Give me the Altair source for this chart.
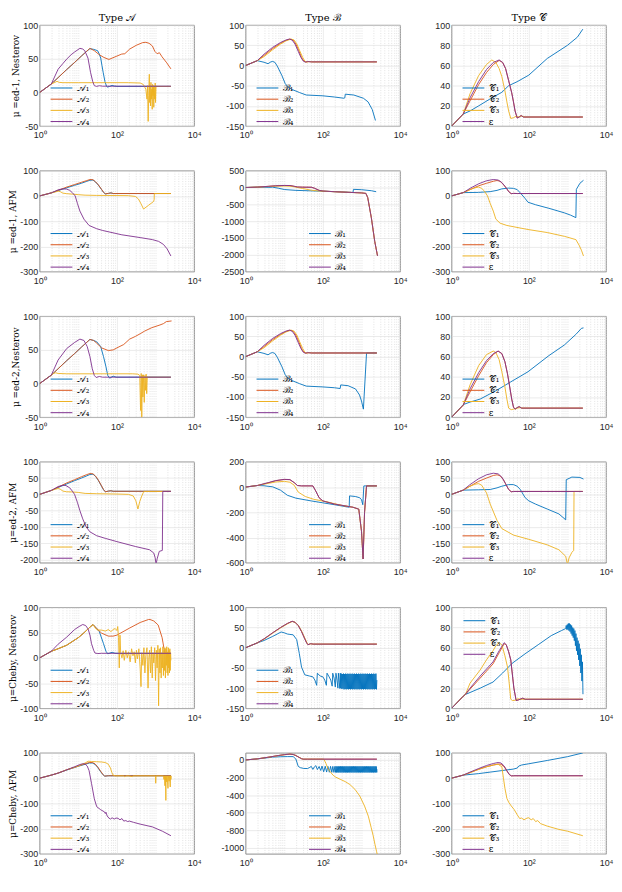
import altair as alt
import pandas as pd

COLORS = ["#0072BD", "#D95319", "#EDB120", "#7E2F8E"]
LAB_A = ["𝒜₁", "𝒜₂", "𝒜₃", "𝒜₄"]
LAB_B = ["ℬ₁", "ℬ₂", "ℬ₃", "ℬ₄"]
LAB_C = ["𝒞₁", "𝒞₂", "𝒞₃", "ε"]
COL_TITLES = ["Type 𝒜", "Type ℬ", "Type 𝒞"]
ROW_TITLES = ["μ =ed-1, Nesterov", "μ =ed-1, AFM", "μ =ed-2,Nesterov",
              "μ=ed-2, AFM", "μ=Cheby, Nesterov", "μ=Cheby, AFM"]

# ---------------- row 1 : ed-1, Nesterov ----------------
R1A1 = [(1,0),(2,12.5),(3,22),(5,34),(8,44.5),(12,54),(16,60.5),(20,65),(25,64),(31.6,62),(35,57),(38,51),(41,40),(44,30),(49,16),(54,9),(57,8),(65,9),(75,10.5),(85,9.5),(100,9),(2500,9)]
R1A2 = [(1,0),(2,12.5),(3,22),(5,34),(8,44.5),(12,54),(16,60.5),(20,65.5),(26,62),(35,56),(46,52),(62,49),(100,54),(133,57),(160,57.5),(215,64.5),(316,70),(464,74),(562,74.5),(680,73),(830,69),(960,61),(1100,57.5),(1260,59),(1470,53),(1950,44),(2500,35)]
R1A3 = [(1,0),(2,12.5),(2.5,15),(2.8,16.5),(3.2,15),(4,14.5),(10,14.5),(50,14.5),(200,14.5),(400,14),(480,12),(560,5),(600,-10),(620,10),(645,-43),(665,-5),(690,27),(705,-15),(720,10),(740,-20),(760,15),(780,-10),(800,5),(820,-25),(840,12),(860,-5),(880,10),(900,-22),(920,8),(950,-10),(980,14),(1000,-15),(1030,9),(1100,9),(2500,9)]
R1A4 = [(1,0),(2,12.5),(3,34.5),(4,43),(5,49.5),(6.5,56),(8,60),(11,65.5),(13,64.5),(14.7,62),(17.8,51),(20.7,30),(23.7,16),(26,10),(30,9),(35,10),(42,9.3),(2500,9.3)]

R1B1 = [(1,0),(2,12),(3,8),(3.8,4.5),(4.5,9),(5,10),(5.7,8),(6.6,-1.5),(8.7,-25),(10.6,-45),(12,-51),(15.6,-59),(25,-67),(37,-73),(100,-75),(200,-78),(350,-81),(370,-80),(380,-71),(630,-73),(1120,-81),(1480,-90),(1900,-109),(2300,-136)]
R1B2 = [(1,0),(2,12),(3,25),(5,42),(8,55),(11,62),(14,65.5),(17,63),(20,53),(24,36),(28,20),(32,11),(36,8.5),(42,9.8),(52,9),(2500,9)]
R1B3 = [(1,0),(2,12),(3,22),(5,39),(8,53),(11,61),(15,65.5),(18,63),(21,54),(25,37),(30,20),(34,11),(38,8.5),(44,9.8),(55,9),(2500,9)]
R1B4 = [(1,0),(2,12),(3,28),(5,45),(8,57),(11,63),(13.5,65.5),(16,63),(19,53),(23,35),(27,20),(31,11),(35,8.5),(40,9.8),(50,9),(2500,9)]

R1C1 = [(1,0),(2,12),(3,15),(5,20),(10,27),(20,33.5),(30,40),(50,44),(100,50.5),(300,67),(1000,80),(1800,88),(2500,96)]
R1C2 = [(1,0),(2,12),(3,25),(5,41),(8,53),(12,61),(17,65),(21,63),(25,57),(30,45),(36,33),(40,24),(44,15),(50,8),(56,9),(63,10.5),(72,9),(2500,9)]
R1C3 = [(1,0),(2,12),(3,32),(5,50),(8,61),(11,65.5),(14,63),(17,57),(20,49),(24,35),(27,24),(30,15),(34,7.6),(40,8.3),(48,10),(55,9),(65,10),(80,9),(2500,9)]
R1C4 = [(1,0),(2,12),(3,28),(5,44),(8,56),(12,63),(17,65.5),(21,63),(25,57),(30,45),(36,33),(40,24),(44,15),(50,8),(56,9),(63,10.5),(72,9),(2500,9)]

# ---------------- row 2 : ed-1, AFM ----------------
R2A1 = [(1,0),(2,12),(3,21),(5,32),(8,42),(12,50),(16,57),(20,62),(24,63),(28,55),(33,43),(40,25),(45,14),(50,8),(60,10),(70,12),(80,9.5),(2500,9.5)]
R2A2 = [(1,0),(2,12),(3,22),(5,35),(8,45),(12,54),(16,60),(20,65),(24,64),(28,56),(33,44),(40,26),(45,15),(50,8),(60,10),(70,12),(80,9.5),(2500,9.5)]
R2A3 = [(1,0),(2,12),(2.6,16),(3,19),(3.4,17),(4,11),(5,9),(7,7),(10,5),(15,3),(30,2),(100,1.5),(200,1),(300,-2),(360,-12),(420,-31),(490,-52),(660,-37),(890,-22),(920,-15),(930,9.5),(2500,9.5)]
R2A4 = [(1,0),(2,12),(3,24),(3.9,28),(5,27),(6,22),(7,13),(8.3,0),(9.5,-30),(11,-60),(14,-92),(19,-117),(30,-130),(43,-137),(134,-154),(400,-165),(830,-173),(1200,-180),(1600,-192),(2000,-210),(2500,-238)]

R2B1 = [(1,0),(2,12),(4,5),(5,10),(7,-20),(10,-60),(20,-85),(50,-100),(100,-110),(300,-130),(600,-150),(620,-55),(1000,-65),(1800,-95),(2400,-125)]
R2B2 = [(1,0),(2,12),(4,35),(6,50),(10,60),(14,58),(18,35),(22,15),(30,10),(50,8),(60,-20),(80,-85),(100,-105),(200,-125),(500,-145),(1000,-160),(1300,-175),(1450,-300),(1800,-900),(2200,-1600),(2600,-2030)]
R2B3 = [(1,0),(2,12),(4,30),(6,40),(10,45),(15,35),(20,10),(30,-30),(50,-80),(80,-105),(100,-110),(200,-125),(500,-145),(1000,-160),(1300,-175),(1450,-300),(1800,-900),(2200,-1600),(2600,-2030)]
R2B4 = [(1,0),(2,12),(4,36),(6,51),(10,61),(14,59),(18,36),(22,15),(30,10),(50,8),(60,-20),(80,-85),(100,-105),(200,-125),(500,-145),(1000,-160),(1300,-175),(1450,-300),(1800,-900),(2200,-1600),(2600,-2030)]

R2C1 = [(1,0),(2,13),(5,14),(10,17),(15,22),(20,28),(30,31),(40,30),(50,25),(60,12),(80,-10),(95,-25),(150,-35),(330,-49),(830,-67),(1200,-76),(1650,-86),(1700,26),(2100,50),(2600,62)]
R2C2 = [(1,0),(2,13),(3,25),(5,40),(8,50),(12,58),(15,61),(18,58),(22,45),(27,28),(31,15),(35,9),(40,10),(50,9.5),(2500,9.5)]
R2C3 = [(1,0),(2,13),(3,25),(4,32),(5,35),(6,30),(7,20),(8.5,0),(10,-30),(12,-60),(14,-92),(18,-108),(27,-117),(95,-133),(300,-145),(830,-160),(1650,-173),(2000,-195),(2300,-215),(2600,-238)]
R2C4 = [(1,0),(2,13),(3,30),(5,48),(8,60),(12,65),(16,63),(20,53),(25,35),(30,17),(35,9),(40,10),(50,9.5),(2500,9.5)]

# ---------------- row 3 : ed-2, Nesterov ----------------
R3A1 = [(1,0),(2,12.5),(3,22),(5,34),(8,44.5),(12,54),(16,60.5),(20,65.5),(25,64),(30,62),(38,55),(45,40),(52,25),(58,12),(65,8),(80,11),(95,9.5),(2500,9.5)]
R3A2 = [(1,0),(2,12.5),(3,22),(5,34),(8,44.5),(12,54),(16,60.5),(20,65.5),(25,64),(30,60),(40,53),(60,49),(80,50),(100,53),(150,58),(213,66),(300,70),(400,74),(525,78),(800,83),(1300,87),(1600,89),(1900,92),(2600,93)]
R3A3 = [(1,0),(2,12.5),(2.3,15),(2.6,16),(3,15),(5,14.5),(20,14.5),(100,14.5),(250,14.5),(350,14),(390,12),(410,-40),(425,15),(440,-50),(455,13),(470,-20),(490,13),(510,-28),(530,12),(550,-10),(570,14),(590,-15),(610,10),(630,9.5),(2500,9.5)]
R3A4 = [(1,0),(2,12.5),(3,35),(5,52),(8,61),(11,66),(14,64),(17,55),(20,40),(23,22),(26,12),(29,9),(35,10.5),(42,9.5),(2500,9.5)]

R3B1 = [(1,0),(2,12),(3,8),(3.8,4.5),(4.5,9),(5,10),(5.7,8),(6.6,-1.5),(8.7,-25),(10.6,-45),(12,-51),(15.6,-59),(25,-67),(37,-73),(100,-75),(200,-77),(280,-79),(290,-70),(450,-72),(700,-80),(890,-95),(1000,-110),(1120,-130),(1350,9),(2500,9)]
R3B2 = [(1,0),(2,12),(3,25),(5,42),(8,55),(11,62),(14,65.5),(17,63),(20,53),(24,36),(28,20),(32,11),(36,8.5),(42,9.8),(52,9),(2500,9)]
R3B3 = [(1,0),(2,12),(3,22),(5,39),(8,53),(11,61),(15,65.5),(18,63),(21,54),(25,37),(30,20),(34,11),(38,8.5),(44,9.8),(55,9),(2500,9)]
R3B4 = [(1,0),(2,12),(3,28),(5,45),(8,57),(11,63),(13.5,65.5),(16,63),(19,53),(23,35),(27,20),(31,11),(35,8.5),(40,9.8),(50,9),(2500,9)]

R3C1 = [(1,0),(2,12.5),(3,15),(5.5,18),(13.7,26),(34,35),(95,45),(330,61),(830,71.5),(1650,82),(2300,88),(2600,88.5)]
R3C2 = [(1,0),(2,12),(3,25),(5,41),(8,54),(12,62),(16,65.5),(20,63),(24,55),(28,43),(32,30),(36,18),(40,10),(44,8),(50,9.5),(56,10.5),(65,9),(2500,9)]
R3C3 = [(1,0),(2,12),(3,32),(5,51),(8,62),(12,65.5),(14,64),(17,57),(20,45),(24,30),(27,18),(30,9),(35,7.5),(40,8),(50,9),(60,9.5),(70,9),(2500,9)]
R3C4 = [(1,0),(2,12),(3,28),(5,44),(8,56),(12,63),(16,65.5),(20,63),(24,55),(28,43),(32,30),(36,18),(40,10),(44,8),(50,9.5),(56,10.5),(65,9),(2500,9)]

# ---------------- row 4 : ed-2, AFM ----------------
R4A1 = [(1,0),(2,12),(3,21),(5,32),(8,42),(12,50),(16,56),(20,61),(24,62),(28,55),(33,43),(40,25),(45,14),(50,8),(60,10),(70,11),(80,9.5),(2500,9.5)]
R4A2 = [(1,0),(2,12),(3,22),(5,35),(8,45),(12,54),(16,60),(20,64),(24,63),(28,56),(33,44),(40,26),(45,15),(50,8),(60,10),(70,11),(80,9.5),(2500,9.5)]
R4A3 = [(1,0),(2,12),(2.6,16),(3,18),(3.4,16),(4,10),(5,8),(7,7.5),(10,6),(15,3),(30,2),(100,1),(200,0),(265,-5),(310,-20),(350,-45),(390,-22),(440,-5),(480,5),(500,9),(2500,9)]
R4A4 = [(1,0),(2,12),(3,24),(4,28),(4.8,27),(6,20),(7,10),(8,0),(9.5,-25),(11,-50),(13,-75),(16,-100),(20,-115),(30,-127),(50,-135),(100,-145),(300,-160),(700,-170),(900,-180),(980,-195),(1030,-215),(1100,-198),(1250,-175),(1500,-172),(1540,9),(2500,9)]

R4B1 = [(1,0),(2,12),(3,10),(4,5),(5,2),(8,-25),(12,-65),(20,-88),(50,-110),(100,-125),(200,-140),(480,-160),(490,-70),(700,-75),(900,-85),(1000,-100),(1080,-140),(1150,9),(2500,9)]
R4B2 = [(1,0),(2,12),(4,35),(6,50),(10,60),(14,58),(18,35),(22,12),(28,9),(55,9),(65,-30),(80,-85),(100,-110),(200,-135),(600,-160),(850,-175),(1000,-350),(1100,-570),(1200,-200),(1350,9),(2500,9)]
R4B3 = [(1,0),(2,12),(4,30),(6,40),(10,45),(14,38),(18,15),(23,-40),(35,-75),(58,-97),(140,-120),(300,-145),(600,-160),(850,-175),(1000,-350),(1100,-570),(1200,-200),(1350,9),(2500,9)]
R4B4 = [(1,0),(2,12),(4,36),(6,51),(10,61),(14,59),(18,36),(22,12),(28,9),(55,9),(65,-30),(80,-85),(100,-110),(200,-135),(600,-160),(850,-175),(1000,-350),(1100,-570),(1200,-200),(1350,9),(2500,9)]

R4C1 = [(1,0),(2,13),(5,14),(10,15),(15,20),(20,25),(30,30),(40,30),(50,25),(60,15),(80,-10),(100,-20),(150,-30),(300,-45),(600,-60),(900,-78),(930,45),(1300,53),(2100,52),(2600,47)]
R4C2 = [(1,0),(2,13),(3,25),(5,40),(8,50),(12,58),(15,60),(18,57),(22,45),(26,28),(30,15),(35,8),(40,9),(2500,9)]
R4C3 = [(1,0),(2,13),(3,25),(4,31),(5,33),(6,28),(8,5),(10,-30),(15,-80),(20,-105),(40,-125),(100,-138),(300,-155),(600,-170),(900,-190),(1000,-215),(1100,-195),(1300,-178),(1450,-172),(1480,9),(2500,9)]
R4C4 = [(1,0),(2,13),(3,30),(5,48),(8,60),(12,65),(16,63),(20,53),(25,33),(30,15),(35,8),(40,9),(2500,9)]

# ---------------- row 5 : Cheby, Nesterov ----------------
R5A1 = [(1,0),(2,13),(3,18),(5,25),(10,40),(14,49.5),(19.5,60),(24,66),(30,58),(35,52),(45,28),(52,13),(58,8),(75,11),(90,9),(2500,9)]
R5A2 = [(1,0),(2,13),(3,18),(5,25),(10,40),(14,49.5),(19.5,60),(24,66),(30,58),(40,49),(60,43),(80,43),(100,45),(213,59),(400,70),(660,76),(720,76),(900,73),(1170,65),(1480,40),(1730,10),(1900,9),(2500,9)]
R5A3 = [(1,0),(2,13),(3,18),(5,25),(10,40),(14,49.5),(19.5,60),(24,66),(28,58),(32,55),(40,55),(50,53),(60,56),(70,52),(80,56),(90,58),(100,54),(105,62),(110,40),(115,-20),(120,45),(125,10),(135,0),(145,14),(155,-5),(170,15),(185,0),(200,12),(220,-8),(240,18),(260,4),(280,12),(300,-10),(320,15),(340,-2),(370,18),(400,-20),(420,-57),(440,10),(470,-15),(500,20),(530,-30),(560,5),(600,20),(640,-60),(670,0),(700,15),(740,-30),(780,22),(820,-40),(860,10),(900,-10),(950,20),(1000,-45),(1050,15),(1100,-20),(1150,25),(1200,-95),(1250,18),(1300,-30),(1350,20),(1400,-40),(1450,10),(1500,-20),(1550,22),(1600,-35),(1650,15),(1700,-25),(1750,20),(1800,-40),(1850,18),(1900,-15),(1950,22),(2000,-30),(2050,12),(2100,-35),(2150,20),(2200,-20),(2250,15),(2300,-30),(2350,18),(2400,-25),(2450,10),(2500,-5)]
R5A4 = [(1,0),(2,13),(3,27),(5,41),(8,56),(10.5,62),(13,66),(15.5,64),(18,57),(20,45),(22,28),(25,15),(27,9.5),(32,8.5),(40,9),(2500,9)]

R5B1_HEAD = [(1,0),(2,12),(3,18),(5,28),(8.3,39),(10,37),(12,34),(14,33),(17,32),(21,20),(24.5,-14),(28,-48),(34,-67),(45,-70),(55,-72),(62,-80),(69,-93),(72,-63),(85,-70),(100,-72),(112,-80),(123,-93),(128,-63),(145,-72),(160,-80),(174,-95),(180,-63),(195,-75),(210,-97),(218,-63),(232,-80),(245,-100),(252,-63),(265,-85),(275,-101),(282,-63)]
R5B1_BAND_X = [290,300,310,320,331,342,353,365,377,389,402,415,429,443,457,472,488,504,520,537,555,573,592,611,631,652,673,695,718,742,766,791,817,844,871,900,929,960,991,1024,1057,1092,1127,1164,1202,1242,1282,1324,1368,1412,1459,1506,1556,1607,1659,1714,1770,1828,1888,1950,2013,2079,2147,2218,2290,2365,2443,2500]
R5B1_BAND_Y = [-100,-64,-102,-65,-101,-64,-103,-65,-102,-64,-103,-65,-102,-64,-103,-65,-102,-64,-103,-65,-102,-64,-103,-65,-102,-64,-103,-65,-102,-64,-103,-65,-102,-64,-103,-65,-102,-64,-103,-65,-102,-64,-103,-65,-102,-64,-103,-65,-102,-64,-103,-65,-102,-64,-103,-65,-102,-64,-103,-65,-102,-64,-103,-65,-102,-64,-103,-80]
R5B1 = R5B1_HEAD + list(zip(R5B1_BAND_X, R5B1_BAND_Y))
R5B2 = [(1,0),(2,12),(3,22),(5,37),(8,50),(12,60),(16,65.5),(19,63),(23,55),(28,40),(34,22),(38,12),(41,7.6),(48,10),(56,9),(2500,9)]
R5B3 = [(1,0),(2,12),(3,21),(5,36),(8,49),(12,59),(16,65),(19,63),(23,56),(28,42),(34,24),(39,12),(42,7.6),(49,10),(57,9),(2500,9)]
R5B4 = [(1,0),(2,12),(3,22),(5,37),(8,50),(12,60),(16,65.5),(19,63),(23,55),(28,40),(34,22),(38,12),(41,7.6),(48,10),(56,9),(2500,9)]

R5C1_HEAD = [(1,0),(2,12),(2.3,13.8),(5.5,20),(11.8,26),(21,35),(37,44.6),(80,54),(175,63),(380,72),(700,77)]
R5C1_BAND_X = [900,930,960,991,1024,1057,1092,1127,1164,1202,1242,1282,1324,1368,1412,1459,1506,1556,1607,1659,1714,1770,1828,1888,1950,2013,2079,2147,2218,2290,2365,2443,2520]
R5C1_BAND_Y = [79,82,78,83,78,84,77,84,76,83,74,82,72,80,70,79,67,77,62,74,57,70,53,67,48,64,42,59,35,53,27,46,14]
R5C1 = R5C1_HEAD + list(zip(R5C1_BAND_X, R5C1_BAND_Y))
R5C2 = [(1,0),(2,12),(2.3,14),(3,19),(5.5,30),(11.8,44),(17,55),(23,64),(26,63),(30,56),(34,48),(41,20),(47,7.7),(55,8.5),(69,10),(80,9),(2500,9)]
R5C3 = [(1,0),(2,12),(2.3,14),(3,25),(5.5,38),(8,48),(11.8,57),(14,62),(17,65),(20,63),(24,52),(28,41),(31,25),(34,9),(38,7.7),(44,8),(52,9.5),(60,9),(2500,9)]
R5C4 = [(1,0),(2,12),(2.3,14),(3,20),(5.5,32),(11.8,46),(17,57),(23,65),(26,63),(30,56),(34,48),(41,20),(47,7.7),(55,8.5),(69,10),(80,9),(2500,9)]

# ---------------- row 6 : Cheby, AFM ----------------
R6A1 = [(1,0),(2,12),(3,20),(5,32),(10,47),(15,55),(19.5,60),(23,60),(27,55),(32,42),(38,25),(44,13),(48,8),(60,9.5),(2500,9.5)]
R6A2 = [(1,0),(2,12),(3,20),(5,33),(10,48),(15,57),(19.5,62),(23,62),(27,57),(32,44),(38,27),(44,14),(48,8),(60,9.5),(2500,9.5)]
R6A3 = [(1,0),(2,12),(3,20),(5,33),(10,48),(15,60),(18,67),(22,66),(30,65),(40,64),(50,62),(60,55),(68,40),(74,22),(80,12),(90,9),(150,9),(160,5),(170,9),(200,9),(250,6),(260,9),(1000,9),(1010,-20),(1030,9),(1600,9),(1650,-5),(1700,9),(1750,-30),(1800,9),(1850,-88),(1880,9),(1950,-15),(2000,9),(2100,-40),(2150,9),(2250,-12),(2300,9),(2400,-35),(2450,9),(2500,-5),(2550,9)]
R6A4 = [(1,0),(2,12),(3,20),(5,33),(8,45),(11,54),(13,57),(15,56),(17,48),(19,30),(22,-21),(26,-82),(30,-113),(38,-125),(48,-134),(50,-140),(52,-135),(56,-150),(62,-158),(68,-162),(75,-157),(85,-162),(95,-158),(107,-159),(120,-165),(135,-160),(150,-170),(170,-168),(190,-172),(210,-170),(270,-175),(400,-182),(830,-193),(1500,-210),(2500,-228)]

R6B1_HEAD = [(1,0),(2,12),(3,20),(5,32),(8,36),(12,38),(17,38),(20,10),(23,-73),(26,-88),(32,-97),(40,-98),(46,-85),(50,-73),(55,-108),(60,-80),(66,-65),(72,-110),(80,-75),(88,-120),(95,-70),(105,-135),(115,-72),(125,-138),(135,-73),(147,-140),(158,-73),(170,-141),(181,-73),(193,-142),(205,-73)]
R6B1_BAND_X = [213,220,227,235,243,251,259,268,277,286,295,305,315,325,336,347,358,370,382,395,408,421,435,449,464,479,495,511,528,545,563,582,601,621,641,662,684,706,729,753,778,804,830,857,885,914,944,975,1007,1040,1074,1109,1146,1183,1222,1262,1304,1346,1391,1436,1483,1532,1582,1634,1688,1743,1801,1860,1921,1984,2049,2116,2186,2258,2332,2408,2487,2500]
R6B1_BAND_Y = [-142,-73,-143,-74,-142,-73,-143,-74,-142,-73,-143,-74,-142,-73,-143,-74,-142,-73,-143,-74,-142,-73,-143,-74,-142,-73,-143,-74,-142,-73,-143,-74,-142,-73,-143,-74,-142,-73,-143,-74,-142,-73,-143,-74,-142,-73,-143,-74,-142,-73,-143,-74,-142,-73,-143,-74,-142,-73,-143,-74,-142,-73,-143,-74,-142,-73,-143,-74,-142,-73,-143,-74,-142,-73,-143,-74,-142,-105]
R6B1 = R6B1_HEAD + list(zip(R6B1_BAND_X, R6B1_BAND_Y))
R6B2 = [(1,0),(2,12),(4,32),(7,50),(10,60),(14,66),(17,62),(20,50),(24,30),(28,14),(31,9),(40,9),(2500,9)]
R6B3 = [(1,0),(2,12),(4,31),(7,49),(10,59),(14,65),(17,62),(20,51),(24,31),(28,15),(31,9),(40,9),(100,9),(107,5),(120,-40),(135,-100),(160,-143),(185,-175),(213,-195),(280,-220),(380,-247),(500,-280),(675,-334),(900,-410),(1200,-525),(1500,-640),(1780,-769),(2000,-860),(2230,-960),(2450,-1040),(2600,-1090)]
R6B4 = [(1,0),(2,12),(4,32),(7,50),(10,60),(14,66),(17,62),(20,50),(24,30),(28,14),(31,9),(40,9),(2500,9)]

R6C1 = [(1,0),(2,12),(5,18),(10,24),(20,30),(40,36),(50,40),(55,48),(65,52),(100,57),(300,70),(1000,85),(2500,100)]
R6C2 = [(1,0),(2,12),(3,22),(5,35),(8,45),(12,52),(16,56),(19,55),(23,45),(27,28),(31,15),(35,9),(40,9.5),(2500,9.5)]
R6C3 = [(1,0),(2,12),(3,22),(5,35),(8,45),(12,52),(16,55),(20,45),(22,0),(24,-40),(27,-80),(30,-95),(35,-110),(42,-125),(50,-145),(58,-160),(65,-158),(75,-165),(90,-158),(100,-157),(115,-165),(130,-160),(150,-172),(170,-168),(200,-180),(300,-190),(600,-203),(1000,-210),(2500,-228)]
R6C4 = [(1,0),(2,12),(3,24),(5,38),(8,50),(12,58),(16,62),(19,60),(23,48),(27,30),(31,15),(35,9),(40,9.5),(2500,9.5)]

# y-axis limits and tick labels per panel
Y_A1 = ([-50, 100], [-50, 0, 50, 100])
Y_B1 = ([-150, 100], [-150, -100, -50, 0, 50, 100])
Y_C1 = ([0, 100], [0, 20, 40, 60, 80, 100])
Y_300 = ([-300, 100], [-300, -200, -100, 0, 100])
Y_B2 = ([-2500, 500], [-2500, -2000, -1500, -1000, -500, 0, 500])
Y_A4 = ([-210, 100], [-200, -150, -100, -50, 0, 50, 100])
Y_B4 = ([-600, 200], [-600, -400, -200, 0, 200])
Y_A5 = ([-100, 100], [-100, -50, 0, 50, 100])
Y_B6 = ([-1070, 80], [-1000, -800, -600, -400, -200, 0])

LEG_L = (6.5, 59)
LEG_M = (59.5, 59)
LEG_T = (7.5, 9)

PANELS = [
    (0, 0, [R1A1, R1A2, R1A3, R1A4], Y_A1, LEG_L),
    (0, 1, [R1B1, R1B2, R1B3, R1B4], Y_B1, LEG_L),
    (0, 2, [R1C1, R1C2, R1C3, R1C4], Y_C1, LEG_L),
    (1, 0, [R2A1, R2A2, R2A3, R2A4], Y_300, LEG_L),
    (1, 1, [R2B1, R2B2, R2B3, R2B4], Y_B2, LEG_M),
    (1, 2, [R2C1, R2C2, R2C3, R2C4], Y_300, LEG_L),
    (2, 0, [R3A1, R3A2, R3A3, R3A4], Y_A1, LEG_L),
    (2, 1, [R3B1, R3B2, R3B3, R3B4], Y_B1, LEG_L),
    (2, 2, [R3C1, R3C2, R3C3, R3C4], Y_C1, LEG_L),
    (3, 0, [R4A1, R4A2, R4A3, R4A4], Y_A4, LEG_L),
    (3, 1, [R4B1, R4B2, R4B3, R4B4], Y_B4, LEG_M),
    (3, 2, [R4C1, R4C2, R4C3, R4C4], Y_A4, LEG_L),
    (4, 0, [R5A1, R5A2, R5A3, R5A4], Y_A5, LEG_L),
    (4, 1, [R5B1, R5B2, R5B3, R5B4], Y_B1, LEG_L),
    (4, 2, [R5C1, R5C2, R5C3, R5C4], Y_C1, LEG_T),
    (5, 0, [R6A1, R6A2, R6A3, R6A4], Y_300, LEG_L),
    (5, 1, [R6B1, R6B2, R6B3, R6B4], Y_B6, LEG_M),
    (5, 2, [R6C1, R6C2, R6C3, R6C4], Y_300, LEG_L),
]

W, H = 156, 102
XGRID = [m * 10 ** e for e in range(4) for m in range(1, 10)] + [10000]
SERIF = "DejaVu Serif"
SANS = "Liberation Sans"


def panel(row, col, series, ylim, leg):
    labels = [LAB_A, LAB_B, LAB_C][col]
    recs = []
    k = 0
    for lab, pts in zip(labels, series):
        for (x, y) in pts:
            recs.append({"x": x, "y": y, "s": lab, "i": k})
            k += 1
    df = pd.DataFrame(recs)
    xaxis = alt.Axis(
        values=XGRID, title=None, ticks=False, domain=False,
        labelExpr="datum.value == 1 ? '10⁰' : datum.value == 100 ? '10²' : datum.value == 10000 ? '10⁴' : ''",
        labelOverlap=False, labelFlush=False, labelPadding=5,
        gridDash={"condition": {"test": "datum.value == 100", "value": [1, 0]}, "value": [1, 1.5]},
        gridColor={"condition": {"test": "datum.value == 100", "value": "#dedede"}, "value": "#cfcfcf"},
    )
    yargs = dict(
        values=ylim[1], ticks=False, domain=False, labelPadding=2,
        labelExpr="replace(format(datum.value, 'd'), '\u2212', '-')",
        labelOverlap=False, labelFlush=False,
    )
    if col == 0:
        yaxis = alt.Axis(title=ROW_TITLES[row], titleFont=SERIF, titleFontSize=9,
                         titleFontWeight="normal", titleColor="#000000", titlePadding=2, **yargs)
    else:
        yaxis = alt.Axis(title=None, **yargs)
    legend = alt.Legend(
        orient="none", legendX=leg[0], legendY=leg[1], title=None, padding=0,
        symbolType="M0,0H11", symbolSize=16, symbolStrokeWidth=1,
        labelFont=SERIF, labelFontSize=9, labelColor="#000000", labelOffset=22,
        rowPadding=1.3,
    )
    ch = alt.Chart(df).mark_line(clip=True, strokeWidth=0.9).encode(
        x=alt.X("x:Q", scale=alt.Scale(type="log", domain=[1, 10000], nice=False), axis=xaxis),
        y=alt.Y("y:Q", scale=alt.Scale(domain=ylim[0], nice=False, zero=False), axis=yaxis),
        color=alt.Color("s:N", scale=alt.Scale(domain=labels, range=COLORS), legend=legend),
        order=alt.Order("i:Q"),
    ).properties(width=W, height=H)
    if row == 0:
        ch = ch.properties(title=alt.TitleParams(COL_TITLES[col], font=SERIF, fontSize=10,
                                                 fontWeight="normal", color="#000000",
                                                 offset=-1.5, frame="group"))
    return ch


charts = [panel(*p) for p in PANELS]

chart = alt.concat(
    *charts, columns=3, spacing={"row": 45, "column": 52}, bounds="flush"
).resolve_scale(
    x="independent", y="independent", color="independent"
).resolve_legend(
    color="independent"
).properties(
    padding={"left": 0, "top": 0, "right": 0, "bottom": 0}
).configure_view(
    stroke="#5a5a5a", strokeWidth=0.7
).configure_axis(
    labelFont=SANS, labelFontSize=9, labelColor="#262626",
    gridColor="#dedede", gridWidth=0.6,
)

chart.save("out.html", embed_options={"renderer": "svg", "actions": False})
